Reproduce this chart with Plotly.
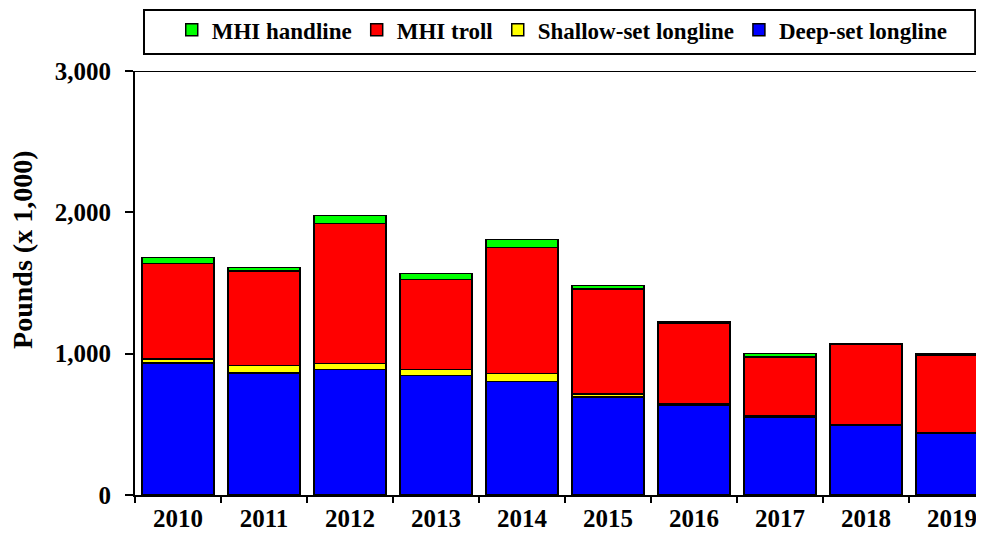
import plotly.graph_objects as go

years = ["2010", "2011", "2012", "2013", "2014", "2015", "2016", "2017", "2018", "2019"]
deep_set = [934, 863, 889, 846, 804, 693, 635, 548, 495, 437]
shallow_set = [28, 54, 42, 43, 54, 23, 8, 10, 3, 3]
mhi_troll = [676, 667, 990, 636, 894, 742, 572, 417, 566, 552]
mhi_handline = [42, 26, 57, 43, 56, 24, 10, 25, 8, 8]

series = [
    ("Deep-set longline", deep_set, "#0000ff"),
    ("Shallow-set longline", shallow_set, "#ffff00"),
    ("MHI troll", mhi_troll, "#ff0000"),
    ("MHI handline", mhi_handline, "#00ff00"),
]

serif = "Liberation Serif, Times New Roman, serif"

fig = go.Figure()
for name, vals, color in series:
    fig.add_trace(go.Bar(x=years, y=vals, name=name,
                         marker=dict(color=color, line=dict(color="black", width=1.5))))

# page body keeps an 8px margin; keep the figure inside the visible window
fig.update_layout(
    width=968, height=528,
    barmode="stack", bargap=0.16,
    plot_bgcolor="white", paper_bgcolor="white",
    margin=dict(l=127, r=0, t=63, b=41),
    font=dict(family=serif, color="black", size=25, weight="bold"),
    legend=dict(orientation="h", traceorder="reversed",
                x=0.508, xanchor="center", y=1.097, yanchor="middle",
                font=dict(family=serif, size=23, weight="bold"),
                bgcolor="rgba(0,0,0,0)", itemwidth=30),
    shapes=[
        dict(type="line", xref="paper", yref="y", x0=0, x1=1, y0=3000, y1=3000,
             line=dict(color="black", width=2)),
        dict(type="rect", xref="paper", yref="paper", x0=0.0107, x1=0.999,
             y0=1.040, y1=1.144, line=dict(color="black", width=2)),
    ],
    annotations=[
        dict(text="Pounds (x 1,000)", textangle=-90, xref="paper", yref="paper",
             x=-0.1332, y=0.578, xanchor="center", yanchor="middle", showarrow=False,
             font=dict(family=serif, size=28, weight="bold")),
    ],
)
fig.update_xaxes(range=[-0.5, 9.279], showline=True, linecolor="black", linewidth=2,
                 ticks="outside", tickson="boundaries", ticklen=6, tickwidth=2,
                 tickcolor="black", tickfont=dict(size=25), showgrid=False,
                 automargin=False)
fig.update_yaxes(range=[0, 3000], tickvals=[0, 1000, 2000, 3000], tickformat=",",
                 showline=True, linecolor="black", linewidth=2,
                 ticks="outside", ticklen=8, tickwidth=2, tickcolor="black",
                 tickfont=dict(size=25), ticklabelstandoff=9,
                 showgrid=False, zeroline=False, automargin=False)

fig.write_html("out.html")
